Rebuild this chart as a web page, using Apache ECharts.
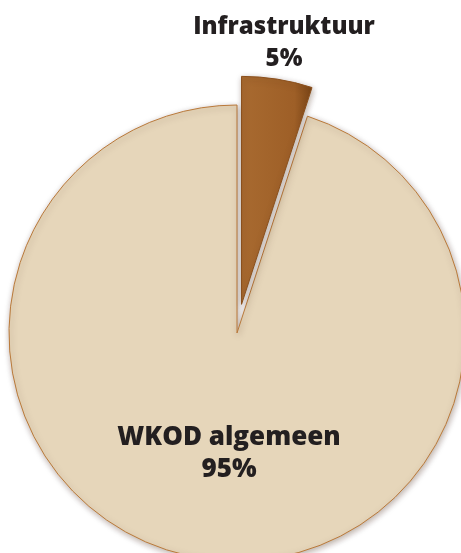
<!DOCTYPE html>
<html>
<head>
<meta charset="utf-8">
<script src="https://cdn.jsdelivr.net/npm/echarts@6/dist/echarts.min.js"></script>
<style>
  html, body { margin: 0; padding: 0; background: #fff; }
  #chart { width: 461px; height: 553px; }
</style>
</head>
<body>
<div id="chart"></div>
<script>
// data
const categories = ['Infrastruktuur', 'WKOD algemeen'];
const values = [5, 95];
const sliceColors = ['#a3642c', '#e6d6ba'];

const chart = echarts.init(document.getElementById('chart'));

const total = values.reduce((a, b) => a + b, 0);
const pct = v => Math.round(v / total * 100) + '%';

const labelFont = {
  fontFamily: 'Open Sans',
  fontWeight: 800,
  lineHeight: 32,
  color: '#231f20'
};

const option = {
  animation: false,
  // the exploded slice keeps its label in the select state, so draw it here
  graphic: [{
    type: 'text',
    x: 284,
    y: 43,
    silent: true,
    style: Object.assign({
      text: categories[0] + '\n' + pct(values[0]),
      fontSize: 24,
      align: 'center',
      verticalAlign: 'middle',
      fill: '#231f20'
    }, labelFont)
  }],
  series: [{
    type: 'pie',
    center: [237, 333],
    radius: [0, 228],
    startAngle: 90,
    clockwise: true,
    selectedMode: 'single',
    selectedOffset: 29,
    avoidLabelOverlap: false,
    data: categories.map((name, i) => ({
      name: name,
      value: values[i],
      selected: i === 0,
      label: { show: i !== 0 },
      select: { label: { show: i !== 0 } },
      itemStyle: {
        color: i === 0
          ? new echarts.graphic.LinearGradient(0, 0, 1, 0, [
              { offset: 0, color: '#a86a30' },
              { offset: 0.75, color: '#9e5f27' },
              { offset: 1, color: '#7a4516' }
            ])
          : sliceColors[i],
        borderColor: i === 0 ? '#8a4f1c' : '#b9793a',
        borderWidth: 1,
        shadowBlur: 6,
        shadowColor: 'rgba(60,30,0,0.35)',
        shadowOffsetX: 1,
        shadowOffsetY: 2
      }
    })),
    label: Object.assign({
      show: true,
      position: 'outside',
      formatter: '{b}\n{d}%',
      fontSize: 26,
      align: 'center'
    }, labelFont),
    labelLine: { show: false },
    labelLayout: function (params) {
      return { x: 229, y: 454, align: 'center', verticalAlign: 'middle' };
    }
  }]
};

chart.setOption(option);
</script>
</body>
</html>
